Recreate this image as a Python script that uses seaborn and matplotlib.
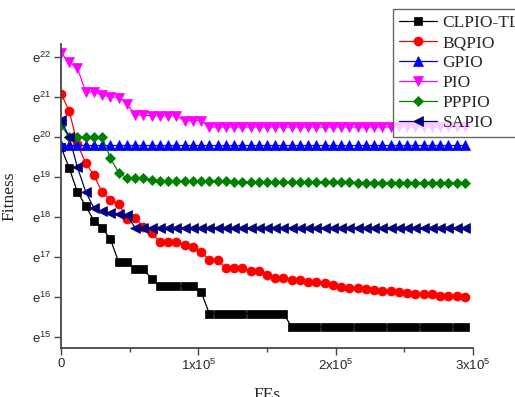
import matplotlib
matplotlib.use('Agg')
import matplotlib.pyplot as plt
from matplotlib.ticker import FixedLocator, NullLocator, FuncFormatter
import pandas as pd
import seaborn as sns
import numpy as np

# function evaluations at which the curves were sampled
fes = np.arange(0, 300000, 6000)

# fitness values, stored as exponents (fitness = e**value)
clpio_tl = ([19.75, 19.22, 18.62, 18.28, 17.9, 17.73, 17.44, 16.87, 16.87, 16.71, 16.71, 16.44]
            + [16.27] * 5 + [16.13] + [15.58] * 10 + [15.25] * 22)
bqpio = [21.09, 20.65, 19.82, 19.35, 19.04, 18.62, 18.43, 18.33, 17.96, 17.97,
         17.76, 17.59, 17.38, 17.38, 17.38, 17.3, 17.24, 17.12, 16.93, 16.93,
         16.72, 16.72, 16.72, 16.66, 16.66, 16.55, 16.47, 16.47, 16.43, 16.43,
         16.38, 16.38, 16.34, 16.3, 16.25, 16.22, 16.22, 16.19, 16.18, 16.15,
         16.15, 16.12, 16.1, 16.08, 16.07, 16.07, 16.03, 16.02, 16.02, 15.99]
gpio = [19.8] * 50
pio = ([22.11, 21.87, 21.72, 21.13, 21.12, 21.05, 21.01, 20.99, 20.84, 20.55, 20.55]
       + [20.53] * 4 + [20.41] * 3 + [20.25] * 32)
pppio = ([20.3] + [20.0] * 5 + [19.47, 19.11, 18.97, 18.98, 18.97, 18.93]
         + [18.9] * 9 + [18.88] * 15 + [18.86] * 14)
sapio = [20.42, 20.0, 19.24, 18.63, 18.22, 18.14, 18.1, 18.08, 18.04] + [17.73] * 41

names = ['CLPIO-TL', 'BQPIO', 'GPIO', 'PIO', 'PPPIO', 'SAPIO']
series = [clpio_tl, bqpio, gpio, pio, pppio, sapio]
colors = ['black', '#FF0000', '#0000FF', '#FF00FF', '#008000', '#000080']
markers = ['s', 'o', '^', 'v', 'D', '<']
msizes = [5.5, 6.5, 6.5, 6.5, 5.5, 6.5]

sns.set_style('white')
plt.rcParams['font.family'] = ['Liberation Sans', 'DejaVu Sans']
plt.rcParams['mathtext.fontset'] = 'custom'
plt.rcParams['mathtext.rm'] = 'Liberation Sans'
plt.rcParams['mathtext.it'] = 'Liberation Sans'

fig = plt.figure(figsize=(5.15, 3.97), dpi=100)
ax = fig.add_axes([61 / 515, 1 - 348 / 397, 412 / 515, 304 / 397])

for name, vals, c, m, ms in zip(names, series, colors, markers, msizes):
    df = pd.DataFrame({'FEs': fes, 'Fitness': np.exp(vals)})
    sns.lineplot(data=df, x='FEs', y='Fitness', color=c, marker=m, markersize=ms,
                 markeredgecolor=c, markeredgewidth=0.5, linewidth=0.9,
                 label=name, ax=ax)

ax.set_yscale('log', base=np.e)
ax.set_ylim(np.exp(14.72), np.exp(22.33))
ax.set_xlim(0, 300000)

ax.yaxis.set_major_locator(FixedLocator([np.exp(k) for k in range(15, 23)]))
ax.yaxis.set_minor_locator(NullLocator())
ax.yaxis.set_major_formatter(FuncFormatter(lambda v, p: 'e$^{%d}$' % int(round(np.log(v)))))
ax.xaxis.set_major_locator(FixedLocator([0, 100000, 200000, 300000]))
ax.xaxis.set_minor_locator(FixedLocator([50000, 150000, 250000]))
ax.xaxis.set_major_formatter(FuncFormatter(lambda v, p: '0' if v == 0 else '%dx10$^5$' % int(round(v / 1e5))))

for s in ['top', 'right']:
    ax.spines[s].set_visible(False)
for s in ['left', 'bottom']:
    ax.spines[s].set_color('#444444')
    ax.spines[s].set_linewidth(1.3)

ax.tick_params(which='major', direction='out', length=5, width=1, color='#444444',
               labelsize=9.5, pad=2, left=True, bottom=True)
ax.tick_params(which='minor', direction='out', length=3, width=1, color='#444444', bottom=True)

ax.set_xlabel('FEs', family='Liberation Serif', fontsize=12.5, labelpad=10)
ax.set_ylabel('Fitness', family='Liberation Serif', fontsize=12.5, labelpad=10)

handles, labels = ax.get_legend_handles_labels()
ax.get_legend().remove()
leg = fig.legend(handles, labels, loc='upper left', bbox_to_anchor=(393 / 515, 1 - 9 / 397),
                 bbox_transform=fig.transFigure, borderaxespad=0, frameon=True, fancybox=False,
                 prop={'family': 'Liberation Serif', 'size': 12.5}, handlelength=2.2,
                 handletextpad=0.3, labelspacing=0.22, borderpad=0.35)
leg.get_frame().set_edgecolor('#444444')
leg.get_frame().set_linewidth(1.0)

plt.savefig('out.png', dpi=100)
